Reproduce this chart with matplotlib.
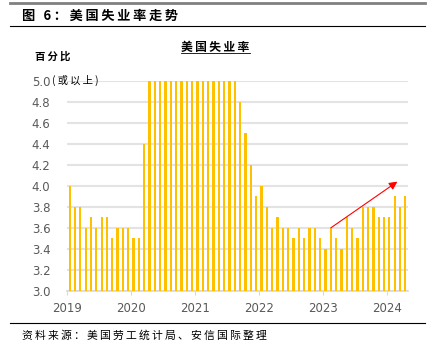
import numpy as np
import matplotlib
matplotlib.use("Agg")
import matplotlib.pyplot as plt
from matplotlib.lines import Line2D

plt.rcParams['font.family'] = ['Noto Sans CJK SC', 'DejaVu Sans']

# 美国失业率（%），2019-01 至 2024-04，超过5.0的按5.0显示
years = ['2019', '2020', '2021', '2022', '2023', '2024']
rate_2019 = [4.0, 3.8, 3.8, 3.6, 3.7, 3.6, 3.7, 3.7, 3.5, 3.6, 3.6, 3.6]
rate_2020 = [3.5, 3.5, 4.4, 5.0, 5.0, 5.0, 5.0, 5.0, 5.0, 5.0, 5.0, 5.0]
rate_2021 = [5.0, 5.0, 5.0, 5.0, 5.0, 5.0, 5.0, 5.0, 4.8, 4.5, 4.2, 3.9]
rate_2022 = [4.0, 3.8, 3.6, 3.7, 3.6, 3.6, 3.5, 3.6, 3.5, 3.6, 3.6, 3.5]
rate_2023 = [3.4, 3.6, 3.5, 3.4, 3.7, 3.6, 3.5, 3.8, 3.8, 3.8, 3.7, 3.7]
rate_2024 = [3.7, 3.9, 3.8, 3.9]
rates = rate_2019 + rate_2020 + rate_2021 + rate_2022 + rate_2023 + rate_2024
yticks = [3.0, 3.2, 3.4, 3.6, 3.8, 4.0, 4.2, 4.4, 4.6, 4.8, 5.0]


def spaced(s):
    # 字间加细空格（细空格由 DejaVu Sans 补字）
    return '\u2009'.join(s)


fig = plt.figure(figsize=(4.35, 3.56), dpi=100)
ax = fig.add_axes([0.154, 0.1826, 0.784, 0.5907])

x = np.arange(len(rates)) + 0.5
ax.bar(x, np.array(rates) - 3.0, bottom=3.0, width=0.42, color='#FFC000', zorder=3)

ax.set_xlim(0, 64)
ax.set_ylim(3.0, 5.0)
ax.set_yticks(yticks)
ax.set_yticklabels([f"{v:.1f}" for v in yticks], fontsize=8.5, color='#595959',
                   family='DejaVu Sans')
ax.set_xticks(np.arange(len(years)) * 12)
ax.set_xticklabels(years, fontsize=8.5, color='#595959', family='DejaVu Sans')
ax.tick_params(axis='y', length=0, pad=12)
ax.tick_params(axis='x', length=3, color='#d9d9d9', pad=5)
ax.grid(axis='y', color='#e3e3e3', linewidth=1.5, zorder=0)
for s in ['top', 'right', 'left']:
    ax.spines[s].set_visible(False)
ax.spines['bottom'].set_color('#d9d9d9')
ax.spines['bottom'].set_linewidth(1.2)

# 趋势箭头
ax.annotate('', xy=(62.0, 4.04), xytext=(49.5, 3.6),
            arrowprops=dict(arrowstyle='-|>', color='#ff0000', lw=0.8,
                            mutation_scale=12, shrinkA=0, shrinkB=0),
            zorder=5)

# 文字
ax.text(-0.045, 1.0, '(\u2009或\u2009以\u2009上\u2009)', transform=ax.transAxes,
        fontsize=7.5, va='center', ha='left')
fig.text(0.08, 0.84, spaced('百分比'), fontsize=7.5, fontweight='bold', va='center')
fig.text(0.495, 0.868, spaced('美国失业率'), fontsize=8.5, fontweight='bold',
         ha='center', va='center')
fig.add_artist(Line2D([0.415, 0.575], [0.851, 0.851], color='black', lw=0.6))

fig.text(0.05, 0.955, spaced('图 6：美国失业率走势'), fontsize=9.5, fontweight='bold',
         va='center')
fig.add_artist(Line2D([0.023, 0.977], [0.992, 0.992], color='#808080', lw=2))
fig.add_artist(Line2D([0.023, 0.977], [0.927, 0.927], color='black', lw=0.8))
fig.add_artist(Line2D([0.023, 0.977], [0.093, 0.093], color='black', lw=0.8))
fig.text(0.05, 0.058, spaced('资料来源：美国劳工统计局、安信国际整理'), fontsize=7.8,
         style='italic', va='center')

fig.savefig('out.png', dpi=100)
